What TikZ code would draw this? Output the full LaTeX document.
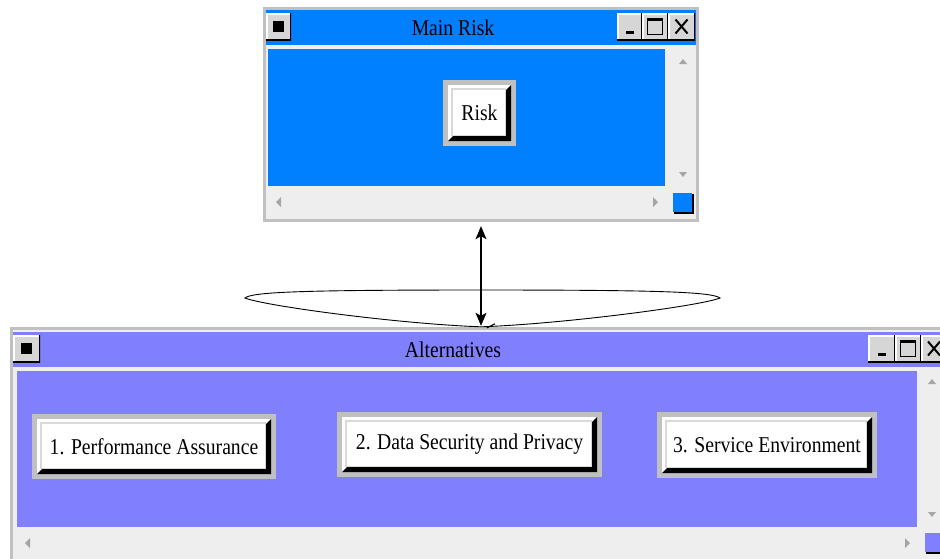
\documentclass[tikz,border=0pt]{standalone}
\usepackage{graphicx}
\usepackage{fontspec}
\setmainfont{Liberation Serif}
\usetikzlibrary{arrows.meta,calc}
\definecolor{mainblue}{RGB}{0,128,255}
\definecolor{altpurple}{RGB}{128,128,255}
\definecolor{framegray}{RGB}{192,192,192}
\definecolor{barbg}{RGB}{238,238,238}
\definecolor{arrowgray}{RGB}{165,165,165}
\definecolor{facegray}{RGB}{214,214,214}
\newcommand{\condtext}[1]{\scalebox{0.87}[1]{\rmfamily #1}}
\begin{document}
\begin{tikzpicture}[x=1pt,y=-1pt,
  winframe/.style={fill=framegray, draw=none, inner sep=0pt},
  titletext/.style={inner sep=0pt, font=\fontsize{22.6}{26}\selectfont\rmfamily},
  tbtn/.style={fill=facegray, inner sep=0pt, minimum height=27pt,
    path picture={
      \draw[white, line width=3pt] (path picture bounding box.south west) -- (path picture bounding box.north west) -- (path picture bounding box.north east);
      \draw[black, line width=3pt] (path picture bounding box.north east) -- (path picture bounding box.south east) -- (path picture bounding box.south west);
    }},
  btn/.style={fill=framegray, inner sep=0pt, font=\fontsize{22.6}{26}\selectfont\rmfamily,
    path picture={
      \coordinate (bsw) at ($(path picture bounding box.south west)+(5pt,5pt)$);
      \coordinate (bne) at ($(path picture bounding box.north east)+(-5pt,-5pt)$);
      \coordinate (bse) at (bne |- bsw);
      \fill[white] (bsw) rectangle (bne);
      \fill[black] (bne) -- (bse) -- (bsw) -- ($(bsw)+(5pt,5pt)$) -- ($(bse)+(-5pt,5pt)$) -- ($(bne)+(-5pt,-5pt)$) -- cycle;
      \draw[black!15, line width=1.3pt] ($(bsw)+(4pt,5.6pt)$) rectangle ($(bne)+(-5.6pt,-4pt)$);
    }},
  dblarrow/.style={{Stealth[length=13pt,width=11pt,inset=3pt]}-{Stealth[length=13pt,width=11pt,inset=3pt]}, line width=1.1pt},
  scrollarrow/.style={fill=arrowgray}
]
\clip (0,0) rectangle (940,558);
\fill[white] (0,0) rectangle (940,558);

% ---------- Main Risk window ----------
\node[winframe, minimum width=436pt, minimum height=215pt] (mainwin) at (481,114.5) {};
\fill[barbg] (266,10) rectangle (696,219);
\fill[mainblue] (266,10) rectangle (696,45);
\fill[mainblue] (268,49) rectangle (665,186);
\fill[scrollarrow] (679,64) -- (687,64) -- (683,59) -- cycle;
\fill[scrollarrow] (679,172) -- (687,172) -- (683,177) -- cycle;
\fill[scrollarrow] (281,197) -- (281,207) -- (276,202) -- cycle;
\fill[scrollarrow] (653,197) -- (653,207) -- (658,202) -- cycle;
\fill[black] (674,194) rectangle (694,214);
\fill[mainblue] (673,193) rectangle (692,212);

\node[tbtn, minimum width=25pt] (sysm) at (278.5,26.5) {};
\fill[black] ($(sysm.center)+(-5.5,-5.5)$) rectangle ($(sysm.center)+(5.5,5.5)$);
\node[tbtn, minimum width=25pt] (minm) at (629.5,26.5) {};
\fill[black] ($(minm.center)+(-4,4)$) rectangle ($(minm.center)+(4,7)$);
\node[tbtn, minimum width=26pt] (maxm) at (655,26.5) {};
\draw[black, line width=1.3pt] ($(maxm.center)+(-7.5,-8)$) rectangle ($(maxm.center)+(7.5,8)$);
\draw[black, line width=2.5pt] ($(maxm.center)+(-7.5,-7)$) -- ($(maxm.center)+(7.5,-7)$);
\node[tbtn, minimum width=27pt] (clsm) at (681.5,26.5) {};
\draw[black, line width=2pt] ($(clsm.center)+(-6,-7)$) -- ($(clsm.center)+(6,7)$);
\draw[black, line width=2pt] ($(clsm.center)+(6,-7)$) -- ($(clsm.center)+(-6,7)$);

\node[titletext] (maintitle) at (453,28) {\condtext{Main Risk}};
\node[btn, minimum width=73pt, minimum height=66pt] (risk) at (479.5,113) {\condtext{Risk}};

% ---------- Alternatives window ----------
\node[winframe, minimum width=940pt, minimum height=240pt] (altwin) at (480,447) {};
\fill[barbg] (13,330) rectangle (950,567);
\fill[altpurple] (13,332) rectangle (950,367);
\fill[altpurple] (17,371) rectangle (917,527);
\fill[scrollarrow] (928,384) -- (936,384) -- (932,379) -- cycle;
\fill[scrollarrow] (928,512) -- (936,512) -- (932,517) -- cycle;
\fill[scrollarrow] (30,538) -- (30,548) -- (25,543) -- cycle;
\fill[scrollarrow] (905,538) -- (905,548) -- (910,543) -- cycle;
\fill[black] (926,534) rectangle (946,554);
\fill[altpurple] (925,533) rectangle (944,552);

\node[tbtn, minimum width=27pt] (sysa) at (26.5,348.5) {};
\fill[black] ($(sysa.center)+(-5.5,-5.5)$) rectangle ($(sysa.center)+(5.5,5.5)$);
\node[tbtn, minimum width=27pt] (mina) at (881.5,348.5) {};
\fill[black] ($(mina.center)+(-4,4)$) rectangle ($(mina.center)+(4,7)$);
\node[tbtn, minimum width=26pt] (maxa) at (908,348.5) {};
\draw[black, line width=1.3pt] ($(maxa.center)+(-7.5,-8)$) rectangle ($(maxa.center)+(7.5,8)$);
\draw[black, line width=2.5pt] ($(maxa.center)+(-7.5,-7)$) -- ($(maxa.center)+(7.5,-7)$);
\node[tbtn, minimum width=26pt] (clsa) at (934,348.5) {};
\draw[black, line width=2pt] ($(clsa.center)+(-6,-7)$) -- ($(clsa.center)+(6,7)$);
\draw[black, line width=2pt] ($(clsa.center)+(6,-7)$) -- ($(clsa.center)+(-6,7)$);

\node[titletext] (alttitle) at (453,350) {\condtext{Alternatives}};

\node[btn, minimum width=244pt, minimum height=65pt] (alt1) at (154,446.5) {\condtext{1. Performance Assurance}};
\node[btn, minimum width=265pt, minimum height=65pt] (alt2) at (469.5,444.5) {\condtext{2. Data Security and Privacy}};
\node[btn, minimum width=220pt, minimum height=66pt] (alt3) at (767,445) {\condtext{3. Service Environment}};

% ---------- connector ----------
\coordinate (loopbase) at (mainwin.south |- altwin.north);
\draw[dblarrow] ([yshift=-4pt]mainwin.south) -- ([yshift=1pt]loopbase);
\draw[black, line width=0.9pt] (loopbase) .. controls (400,324) and (265,306) .. (245,298)
  .. controls (252,292) and (300,290) .. (481,290)
  .. controls (662,290) and (712,292) .. (720,298)
  .. controls (700,306) and (562,324) .. (loopbase);
\draw[black, line width=1.2pt] ([xshift=6pt,yshift=-1pt]loopbase) -- ([xshift=14pt,yshift=3pt]loopbase);
\end{tikzpicture}
\end{document}
